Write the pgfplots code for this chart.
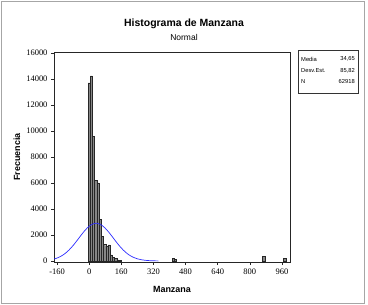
\documentclass[border=0pt]{standalone}
\usepackage{fontspec}
\setmainfont{Liberation Sans}
\newfontfamily\tickfont{Liberation Serif}
\usepackage{pgfplots}
\pgfplotsset{compat=1.18}
\definecolor{bargray}{RGB}{135,135,135}
\definecolor{curveblue}{RGB}{45,45,255}
\begin{document}
\begin{tikzpicture}[x=1bp,y=1bp]
\useasboundingbox (0,0) rectangle (368,305);
\draw[gray!70, line width=1bp] (1.5,1.5) rectangle (364.5,303.5);
\begin{axis}[
  at={(54bp,43bp)}, anchor=south west,
  scale only axis, width=236bp, height=210bp,
  xmin=-175, xmax=1000, ymin=-80, ymax=16080,
  xtick={-160,0,160,320,480,640,800,960},
  ytick={0,2000,4000,6000,8000,10000,12000,14000,16000},
  tick align=outside, tick pos=left, major tick length=3bp,
  ticklabel style={font=\tickfont\fontsize{8.5}{9}\selectfont},
  /pgf/number format/assume math mode=true,
  /pgf/number format/1000 sep={},
  scaled y ticks=false,
  axis line style={black!85, line width=0.6bp},
  every tick/.style={black!85, line width=0.6bp},
]
\addplot[ybar, bar width=11, bar shift=0pt, fill=bargray, draw=black!85, line width=0.4bp] coordinates {
(0,13700) (11,14250) (22,9580) (33,6230) (44,6000) (55,3200) (66,1920) (77,1300)
(88,1150) (99,1230) (110,460) (121,300) (132,180) (143,80) (154,50)
(418,180) (429,120) (869,340) (974,200)
};
\addplot[curveblue, line width=0.7bp, smooth, no marks] coordinates {
(-175,143) (-160,222) (-140,366) (-120,572) (-100,847) (-80,1188) (-60,1578)
(-40,1987) (-20,2368) (0,2673) (20,2858) (34.65,2900) (40,2894) (60,2776)
(80,2522) (100,2170) (120,1769) (140,1365) (160,998) (180,691) (200,453)
(220,282) (240,166) (260,92) (280,49) (300,24) (320,12) (345,4)
};
\end{axis}
\node[font=\bfseries\fontsize{10.5}{12}\selectfont] at (184,281) {Histograma de Manzana};
\node[font=\fontsize{8.5}{10}\selectfont] at (184,268) {Normal};
\node[font=\bfseries\fontsize{9}{10}\selectfont] at (172,16) {Manzana};
\node[font=\bfseries\fontsize{9}{10}\selectfont, rotate=90] at (17,148) {Frecuencia};
\draw[black!80, line width=0.6bp] (298,212) rectangle (358,255);
\begin{scope}[every node/.style={font=\fontsize{5.8}{7}\selectfont, inner sep=0pt}]
\node[anchor=west] at (301,246) {Media};
\node[anchor=east] at (355,246) {34,65};
\node[anchor=west] at (301,234.5) {Desv.Est.};
\node[anchor=east] at (355,234.5) {85,82};
\node[anchor=west] at (301,223) {N};
\node[anchor=east] at (355,223) {62918};
\end{scope}
\end{tikzpicture}
\end{document}
